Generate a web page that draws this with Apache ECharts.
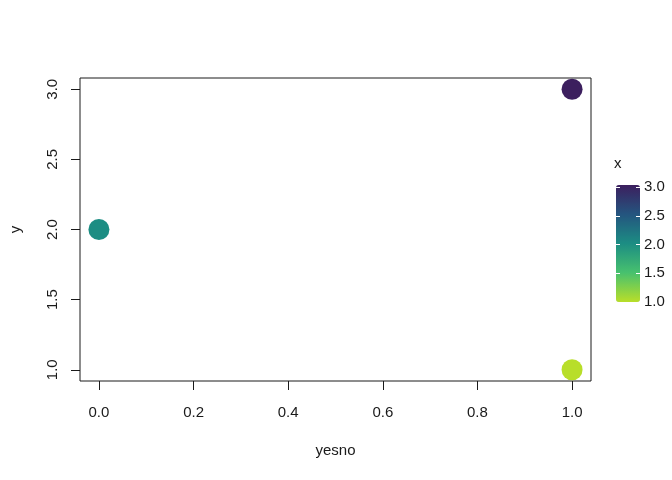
<!DOCTYPE html>
<html>
<head>
<meta charset="utf-8">
<script src="https://cdn.jsdelivr.net/npm/echarts@6/dist/echarts.min.js"></script>
<style>
  html, body { margin: 0; padding: 0; background: #fff; }
  #chart { width: 672px; height: 480px; }
</style>
</head>
<body>
<div id="chart"></div>
<script>
// data
var yesno = [1, 0, 1];
var yVals = [3, 2, 1];
var xVals = [3, 2, 1];

var xTicks = [0, 0.2, 0.4, 0.6, 0.8, 1.0];
var yTicks = [1.0, 1.5, 2.0, 2.5, 3.0];

// colour ramp for x, from 1 (bottom) to 3 (top)
var rampColors = ['#B8DE29', '#48C16E', '#1C8D83', '#24557F', '#3C1F5E'];

var points = [];
for (var i = 0; i < yesno.length; i++) {
    points.push([yesno[i], yVals[i], xVals[i]]);
}

var font = '"Liberation Sans", Arial, Helvetica, sans-serif';
var ink = '#1a1a1a';
var fs = 15;

var chart = echarts.init(document.getElementById('chart'));

chart.setOption({
    animation: false,
    textStyle: { fontFamily: font, color: ink },
    title: {
        text: 'x',
        left: 614,
        top: 156,
        padding: 0,
        textStyle: { fontFamily: font, fontSize: fs, fontWeight: 'normal', color: ink }
    },
    grid: [
        { left: 79, top: 78, width: 512, height: 303, show: true, borderColor: ink, borderWidth: 1, backgroundColor: 'transparent' },
        { left: 616, top: 187, width: 24, height: 115, show: false }
    ],
    xAxis: [
        {
            gridIndex: 0,
            type: 'value',
            min: -0.04,
            max: 1.04,
            name: 'yesno',
            nameLocation: 'middle',
            nameGap: 62,
            nameTextStyle: { fontFamily: font, fontSize: fs, color: ink },
            axisLine: { show: false, onZero: false },
            axisTick: { show: true, customValues: xTicks, length: 9, lineStyle: { color: ink } },
            axisLabel: {
                customValues: xTicks,
                margin: 24,
                fontFamily: font, fontSize: fs, color: ink,
                formatter: function (v) { return v.toFixed(1); }
            },
            splitLine: { show: false }
        },
        { gridIndex: 1, type: 'value', show: false, min: 0, max: 1 }
    ],
    yAxis: [
        {
            gridIndex: 0,
            type: 'value',
            min: 0.92,
            max: 3.08,
            name: 'y',
            nameLocation: 'middle',
            nameGap: 57,
            nameTextStyle: { fontFamily: font, fontSize: fs, color: ink },
            axisLine: { show: false, onZero: false },
            axisTick: { show: true, customValues: yTicks, length: 9, lineStyle: { color: ink } },
            axisLabel: {
                customValues: yTicks,
                rotate: 90,
                margin: 20,
                fontFamily: font, fontSize: fs, color: ink,
                formatter: function (v) { return v.toFixed(1); }
            },
            splitLine: { show: false }
        },
        {
            gridIndex: 1,
            type: 'value',
            position: 'right',
            min: 1,
            max: 3,
            interval: 0.5,
            z: 10,
            axisLine: { show: false, onZero: false },
            axisTick: { show: true, inside: true, length: 4, lineStyle: { color: '#fff', width: 1 } },
            axisLabel: {
                margin: 4,
                fontFamily: font, fontSize: fs, color: ink,
                formatter: function (v) { return v.toFixed(1); }
            },
            splitLine: { show: false }
        },
        {
            gridIndex: 1,
            type: 'value',
            position: 'left',
            min: 1,
            max: 3,
            interval: 0.5,
            z: 10,
            axisLine: { show: false, onZero: false },
            axisTick: { show: true, inside: true, length: 4, lineStyle: { color: '#fff', width: 1 } },
            axisLabel: { show: false },
            splitLine: { show: false }
        }
    ],
    visualMap: {
        type: 'continuous',
        seriesIndex: 0,
        dimension: 2,
        min: 1,
        max: 3,
        calculable: false,
        hoverLink: false,
        orient: 'vertical',
        left: 616,
        top: 185,
        itemWidth: 24,
        itemHeight: 117,
        padding: 0,
        text: null,
        z: 2,
        inRange: { color: rampColors }
    },
    series: [
        {
            type: 'scatter',
            xAxisIndex: 0,
            yAxisIndex: 0,
            symbol: 'circle',
            symbolSize: 21,
            itemStyle: { opacity: 1 },
            data: points
        }
    ]
});
</script>
</body>
</html>
